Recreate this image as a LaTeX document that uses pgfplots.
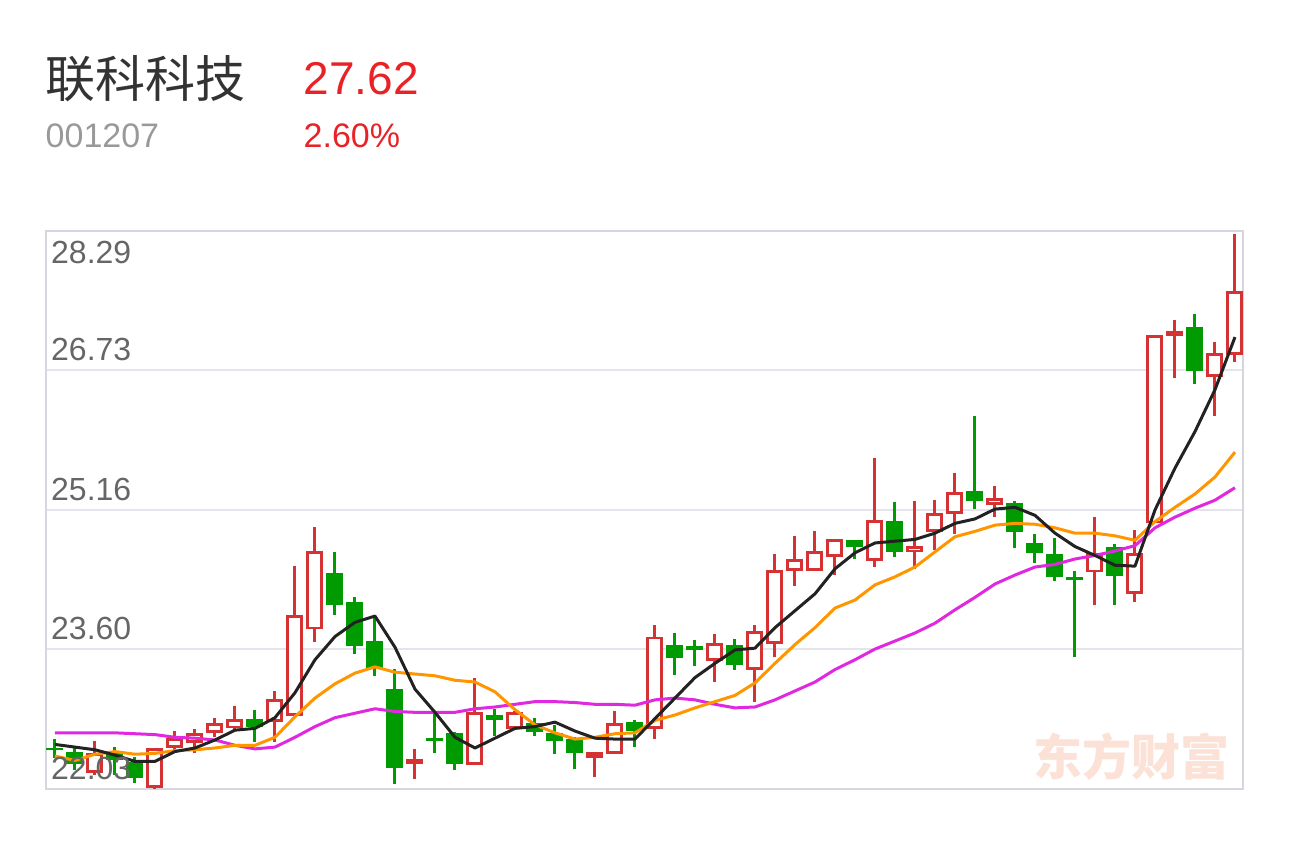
\documentclass[border=0pt]{standalone}
\usepackage{pgfplots}
\pgfplotsset{compat=1.18}
\usepackage{pgfplotstable}
\usepackage{fontspec}
\setmainfont{Liberation Sans}
\newfontfamily\cjk{Noto Sans CJK SC}

\definecolor{upred}{RGB}{214,50,52}
\definecolor{dngreen}{RGB}{0,155,0}
\definecolor{txtred}{RGB}{232,34,38}
\definecolor{maA}{RGB}{34,34,34}
\definecolor{maB}{RGB}{255,150,0}
\definecolor{maC}{RGB}{225,40,225}
\definecolor{gridc}{RGB}{228,228,236}
\definecolor{framec}{RGB}{214,214,222}
\definecolor{labc}{RGB}{102,102,102}
\definecolor{codec}{RGB}{153,153,153}
\definecolor{titlec}{RGB}{51,51,51}
\definecolor{wmark}{RGB}{251,225,214}

% rising days: index open high low close
\pgfplotstableread{
i o h l c
3 22.21 22.57 22.19 22.43
6 22.04 22.49 22.03 22.49
7 22.49 22.68 22.43 22.60
8 22.55 22.70 22.43 22.66
9 22.66 22.83 22.61 22.77
10 22.71 22.96 22.69 22.81
12 22.78 23.13 22.56 23.04
13 22.85 24.53 22.85 23.98
14 23.82 24.97 23.68 24.70
19 22.31 22.48 22.14 22.37
22 22.30 23.28 22.30 22.89
24 22.70 22.90 22.69 22.89
28 22.38 22.44 22.16 22.44
29 22.42 22.90 22.42 22.77
31 22.70 23.87 22.59 23.74
34 23.47 23.77 23.23 23.67
36 23.37 23.87 23.01 23.80
37 23.66 24.67 23.51 24.49
38 24.48 24.87 24.31 24.61
39 24.48 24.92 24.48 24.70
40 24.63 24.83 24.43 24.83
42 24.59 25.74 24.52 25.05
44 24.69 25.26 24.50 24.76
45 24.91 25.27 24.71 25.13
46 25.12 25.57 24.89 25.36
48 25.22 25.43 25.08 25.29
53 24.46 25.08 24.09 24.68
55 24.22 24.94 24.13 24.68
56 25.01 27.12 25.01 27.12
57 27.11 27.29 26.64 27.17
59 26.65 27.04 26.21 26.92
60 26.90 28.26 26.82 27.62
}\up

% falling days
\pgfplotstableread{
i o h l c
1 22.49 22.59 22.38 22.47
2 22.45 22.49 22.24 22.31
4 22.43 22.50 22.19 22.35
5 22.33 22.39 22.10 22.15
11 22.81 22.92 22.56 22.73
15 24.45 24.69 23.98 24.09
16 24.13 24.18 23.54 23.63
17 23.69 23.97 23.30 23.39
18 23.15 23.38 22.09 22.27
20 22.60 22.88 22.43 22.57
21 22.66 22.67 22.24 22.31
23 22.86 22.93 22.62 22.80
25 22.77 22.83 22.62 22.67
26 22.66 22.75 22.42 22.57
27 22.59 22.61 22.25 22.43
30 22.78 22.80 22.50 22.68
32 23.65 23.78 23.31 23.50
33 23.63 23.70 23.41 23.59
35 23.65 23.71 23.37 23.42
41 24.82 24.82 24.61 24.75
43 25.04 25.25 24.63 24.69
47 25.37 26.21 25.17 25.26
49 25.24 25.26 24.73 24.91
50 24.79 24.89 24.57 24.68
51 24.67 24.85 24.36 24.41
52 24.41 24.48 23.51 24.37
54 24.75 24.78 24.09 24.42
58 27.21 27.36 26.57 26.72
}\dn

% moving averages MA5 MA10 MA20
\pgfplotstableread{
i m5 m10 m20
1 22.53 22.40 22.66
2 22.50 22.35 22.66
3 22.47 22.42 22.66
4 22.41 22.45 22.66
5 22.34 22.42 22.65
6 22.34 22.43 22.64
7 22.45 22.46 22.61
8 22.49 22.47 22.60
9 22.58 22.49 22.58
10 22.69 22.52 22.52
11 22.71 22.52 22.48
12 22.83 22.61 22.50
13 23.11 22.84 22.61
14 23.48 23.05 22.73
15 23.74 23.21 22.83
16 23.90 23.33 22.88
17 23.97 23.40 22.93
18 23.62 23.34 22.90
19 23.15 23.32 22.89
20 22.89 23.30 22.89
21 22.61 23.25 22.89
22 22.49 23.23 22.93
23 22.60 23.12 22.95
24 22.71 22.92 22.98
25 22.73 22.75 23.01
26 22.78 22.66 23.01
27 22.68 22.59 23.00
28 22.60 22.61 22.98
29 22.59 22.65 22.98
30 22.59 22.66 22.97
31 22.82 22.80 23.03
32 23.05 22.86 23.05
33 23.28 22.94 23.03
34 23.44 23.01 22.98
35 23.59 23.08 22.94
36 23.61 23.22 22.95
37 23.84 23.44 23.03
38 24.03 23.65 23.13
39 24.22 23.84 23.23
40 24.50 24.06 23.37
41 24.68 24.15 23.48
42 24.79 24.32 23.60
43 24.81 24.41 23.69
44 24.83 24.52 23.78
45 24.90 24.69 23.89
46 25.01 24.86 24.04
47 25.06 24.92 24.18
48 25.17 24.99 24.33
49 25.19 25.01 24.43
50 25.10 25.00 24.52
51 24.90 24.96 24.55
52 24.75 24.90 24.61
53 24.65 24.90 24.65
54 24.54 24.87 24.70
55 24.53 24.82 24.76
56 25.16 25.03 24.96
57 25.63 25.19 25.08
58 26.04 25.34 25.18
59 26.51 25.53 25.27
60 27.10 25.81 25.41
}\ma

\tikzset{
  ylab/.style={inner sep=0pt, text=labc, font=\fontsize{32pt}{32pt}\selectfont},
}
\pgfplotsset{
  bar/.style 2 args={draw=none, mark=none, forget plot,
    error bars/.cd, y dir=plus, y explicit, error mark=none,
    error bar style={draw=#1, line width=#2, solid}},
}

\begin{document}
\begin{tikzpicture}
\path[use as bounding box] (0,0) rectangle (1290pt,843pt);

\node[anchor=center, inner sep=0pt, text=wmark, font=\cjk\bfseries\fontsize{49pt}{49pt}\selectfont]
  at (1131pt,86pt) {东方财富};

\begin{axis}[
  at={(46pt,54pt)}, anchor=south west,
  scale only axis, width=1197pt, height=558pt,
  xmin=0.55, xmax=60.4, ymin=22.03, ymax=28.29,
  axis line style={draw=framec, line width=1.3pt},
  xtick=\empty,
  ytick={22.03,23.60,25.16,26.73,28.29},
  yticklabels={},
  major tick length=0pt,
  ymajorgrids, grid style={draw=gridc, line width=1.6pt},
]
% wicks
\addplot[bar={upred}{3pt}] table[x=i, y=l, y error plus expr=\thisrow{h}-\thisrow{l}] {\up};
\addplot[bar={dngreen}{3pt}] table[x=i, y=l, y error plus expr=\thisrow{h}-\thisrow{l}] {\dn};
% bodies
\addplot[bar={dngreen}{17pt}] table[x=i, y=c, y error plus expr=\thisrow{o}-\thisrow{c}] {\dn};
\addplot[bar={upred}{17pt}] table[x=i, y=o, y error plus expr=\thisrow{c}-\thisrow{o}] {\up};
\addplot[bar={white}{11pt}] table[x=i, y expr=\thisrow{o}+0.032,
  y error plus expr={max(\thisrow{c}-\thisrow{o}-0.064,0)}] {\up};
% moving averages
\addplot[maC, line width=3pt, line join=round, mark=none] table[x=i, y=m20] {\ma};
\addplot[maB, line width=3pt, line join=round, mark=none] table[x=i, y=m10] {\ma};
\addplot[maA, line width=3pt, line join=round, mark=none] table[x=i, y=m5] {\ma};

\node[ylab, anchor=north west, xshift=5pt, yshift=-10pt] at (rel axis cs:0,1) {28.29};
\node[ylab, anchor=south west, xshift=5pt, yshift=9pt] at (axis cs:0.55,26.73) {26.73};
\node[ylab, anchor=south west, xshift=5pt, yshift=9pt] at (axis cs:0.55,25.16) {25.16};
\node[ylab, anchor=south west, xshift=5pt, yshift=9pt] at (axis cs:0.55,23.60) {23.60};
\node[ylab, anchor=south west, xshift=5pt, yshift=9pt] at (rel axis cs:0,0) {22.03};
\node[ylab, anchor=north west, xshift=1pt, yshift=-19pt] at (rel axis cs:0,0) {20251029};
\node[ylab, anchor=north east, yshift=-19pt] at (rel axis cs:1,0) {20260122};
\end{axis}

\node[anchor=base west, inner sep=0pt, text=titlec, font=\cjk\fontsize{50pt}{50pt}\selectfont]
  at (45pt,745pt) {联科科技};
\node[anchor=base west, inner sep=0pt, text=txtred, font=\fontsize{46pt}{46pt}\selectfont]
  at (303.5pt,748pt) {27.62};
\node[anchor=base west, inner sep=0pt, text=codec, font=\fontsize{34pt}{34pt}\selectfont]
  at (45.5pt,695pt) {001207};
\node[anchor=base west, inner sep=0pt, text=txtred, font=\fontsize{34pt}{34pt}\selectfont]
  at (303.5pt,695pt) {2.60\%};
\end{tikzpicture}
\end{document}
